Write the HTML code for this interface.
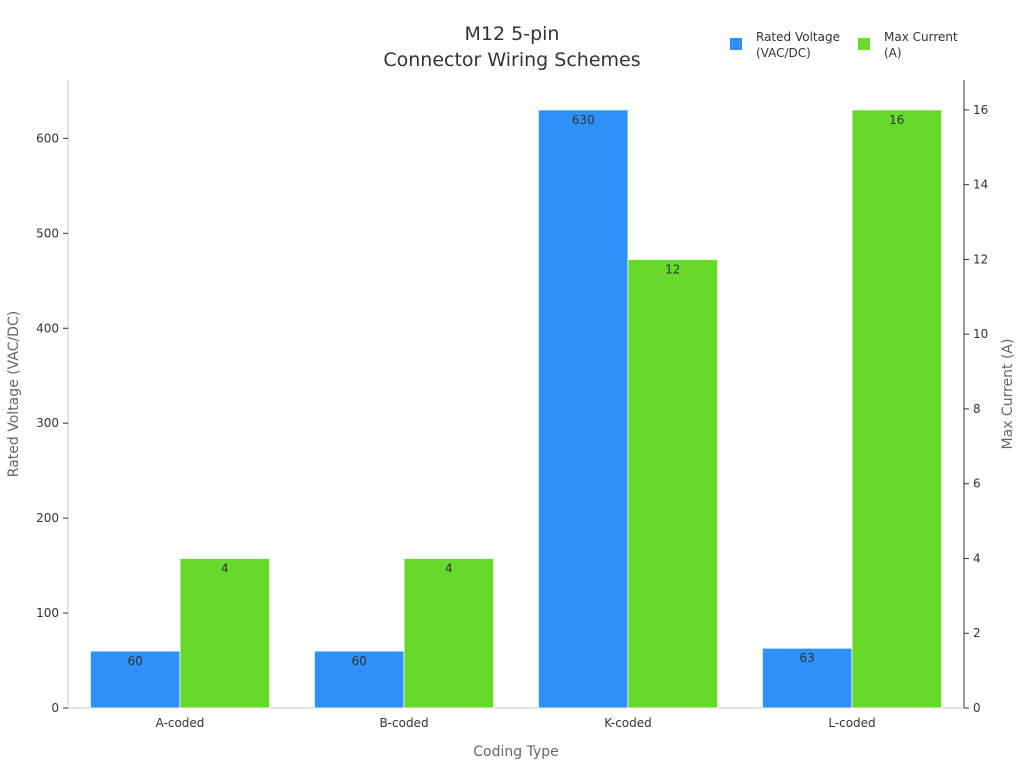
<!DOCTYPE html>
<html><head><meta charset="utf-8"><style>
body{margin:0;background:#fff;font-family:"Liberation Sans","DejaVu Sans",sans-serif;}
svg text{font-family:"DejaVu Sans","Liberation Sans",sans-serif;}
</style></head><body>
<svg id="chart" width="1024" height="768">
<text x="512" y="40" text-anchor="middle" font-size="19" fill="#333">M12 5-pin</text>
<text x="512" y="66" text-anchor="middle" font-size="19" fill="#333">Connector Wiring Schemes</text>
<g>
<rect x="730" y="38" width="12" height="12" fill="#2e91f7"/>
<text x="756" y="41" font-size="12" fill="#333">Rated Voltage</text>
<text x="756" y="57" font-size="12" fill="#333">(VAC/DC)</text>
<rect x="858" y="38" width="12" height="12" fill="#66d92a"/>
<text x="884" y="41" font-size="12" fill="#333">Max Current</text>
<text x="884" y="57" font-size="12" fill="#333">(A)</text>
</g>
<line x1="68" y1="80" x2="68" y2="708" stroke="#ccc"/>
<line x1="964" y1="80" x2="964" y2="708" stroke="#333"/>
<line x1="68" y1="708" x2="964" y2="708" stroke="#ccc"/>
<g id="ticks"></g>
<g id="bars"></g>
<text x="516" y="756" text-anchor="middle" font-size="14" fill="#666">Coding Type</text>
<text transform="translate(18,394) rotate(-90)" text-anchor="middle" font-size="14" fill="#666">Rated Voltage (VAC/DC)</text>
<text transform="translate(1012,394) rotate(-90)" text-anchor="middle" font-size="14" fill="#666">Max Current (A)</text>
</svg>
<script>
const categories=["A-coded","B-coded","K-coded","L-coded"];
const voltage=[60,60,630,63];
const current=[4,4,12,16];
const leftTicks=[0,100,200,300,400,500,600];
const rightTicks=[0,2,4,6,8,10,12,14,16];
const NS="http://www.w3.org/2000/svg";
const X0=68,X1=964,Y0=708,Y1=80;
const vMax=Math.max(...voltage)*1.05, cMax=Math.max(...current)*1.05;
const yL=v=>Y0-(v/vMax)*(Y0-Y1);
const yR=v=>Y0-(v/cMax)*(Y0-Y1);
const band=(X1-X0)/categories.length;
const cx=i=>X0+band*(i+0.5);
const bw=band*0.4;
function mk(tag,attrs,parent,txt){const e=document.createElementNS(NS,tag);for(const k in attrs)e.setAttribute(k,attrs[k]);if(txt!==undefined)e.textContent=txt;parent.appendChild(e);return e;}
const tg=document.getElementById('ticks'), bg=document.getElementById('bars');
leftTicks.forEach(t=>{
 const l=mk('line',{x1:X0-5,x2:X0,y1:yL(t),y2:yL(t),stroke:'#333'},tg);
 
 
 const s=mk('text',{x:X0-9,y:yL(t)+4,'text-anchor':'end','font-size':12,fill:'#333'},tg,t);
 
 
});
rightTicks.forEach(t=>{
 const l=mk('line',{x1:X1,x2:X1+5,y1:yR(t),y2:yR(t),stroke:'#333'},tg);
 
 
 const s=mk('text',{x:X1+9,y:yR(t)+4,'font-size':12,fill:'#333'},tg,t);
 
 
});
categories.forEach((c,i)=>{
 const s=mk('text',{x:cx(i),y:727,'text-anchor':'middle','font-size':12,fill:'#333'},tg,c);
 
 
 const b1=mk('rect',{x:cx(i)-bw,y:yL(voltage[i]),width:bw,height:Y0-yL(voltage[i]),fill:'#2e91f7',stroke:'#fff','stroke-width':0.8},bg);
 
 
 const t1=mk('text',{x:cx(i)-bw/2,y:yL(voltage[i])+14,'text-anchor':'middle','font-size':12,fill:'#333'},bg,voltage[i]);
 
 
 const b2=mk('rect',{x:cx(i),y:yR(current[i]),width:bw,height:Y0-yR(current[i]),fill:'#66d92a',stroke:'#fff','stroke-width':0.8},bg);
 
 
 const t2=mk('text',{x:cx(i)+bw/2,y:yR(current[i])+14,'text-anchor':'middle','font-size':12,fill:'#333'},bg,current[i]);
 
 
});
</script>
</body></html>
